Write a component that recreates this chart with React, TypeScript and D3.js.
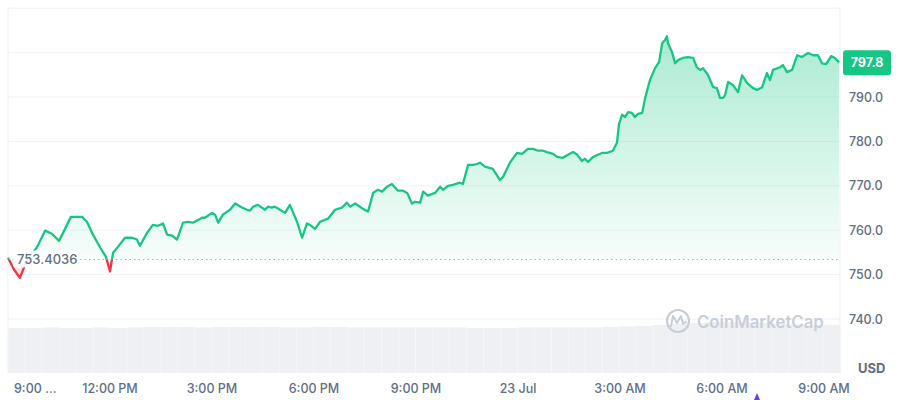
import React from "react";
import * as d3 from "d3";

// hours since 22 Jul 09:00
const hours = [0.00,0.18,0.35,0.59,0.85,1.09,1.29,1.50,1.62,1.85,2.18,2.32,2.50,2.71,2.88,3.00,3.09,3.24,3.44,3.65,3.79,3.88,4.09,4.26,4.41,4.56,4.68,4.82,4.97,5.15,5.29,5.44,5.71,5.79,6.00,6.09,6.18,6.32,6.53,6.68,6.88,7.03,7.12,7.21,7.35,7.56,7.65,7.76,7.85,8.00,8.15,8.29,8.50,8.65,8.79,8.88,9.03,9.18,9.41,9.62,9.82,9.97,10.06,10.21,10.44,10.59,10.74,10.88,11.00,11.15,11.29,11.47,11.62,11.74,11.88,11.97,12.12,12.21,12.35,12.56,12.71,12.79,12.94,13.09,13.29,13.38,13.53,13.68,13.79,13.88,14.03,14.18,14.26,14.47,14.56,14.76,14.97,15.12,15.29,15.44,15.59,15.74,15.85,16.03,16.15,16.32,16.47,16.62,16.74,16.88,16.97,17.06,17.21,17.35,17.47,17.62,17.79,17.91,17.97,18.06,18.15,18.24,18.35,18.44,18.53,18.65,18.74,18.88,19.03,19.15,19.24,19.32,19.38,19.41,19.53,19.62,19.71,19.85,20.00,20.15,20.26,20.35,20.44,20.59,20.74,20.85,20.94,21.03,21.09,21.18,21.32,21.47,21.59,21.74,21.91,22.03,22.18,22.32,22.41,22.50,22.71,22.79,22.91,23.06,23.21,23.35,23.53,23.68,23.82,23.94,24.06,24.21,24.32,24.44];
const prices = [753.8,751.1,749.3,753.8,756.1,759.9,759.2,757.6,759.4,763.0,763.0,761.9,759.0,756.1,754.0,750.7,754.9,756.3,758.3,758.3,757.9,756.5,759.4,761.2,761.0,761.5,759.0,758.8,757.9,761.7,761.9,761.7,762.8,762.8,763.9,763.5,761.7,763.5,764.6,766.0,765.1,764.6,764.4,765.3,765.7,764.6,765.3,765.1,765.3,764.6,763.9,765.7,761.9,758.3,761.5,761.2,760.3,761.9,762.6,764.6,765.1,766.2,765.3,766.0,764.8,764.2,768.4,769.1,768.7,769.8,770.4,768.9,768.9,768.4,766.0,766.4,766.2,768.7,767.8,768.4,769.8,769.1,770.0,770.2,770.7,770.4,774.7,774.7,774.9,775.2,774.3,774.0,773.8,771.3,772.0,775.2,777.4,777.2,778.3,778.3,777.9,777.9,777.6,777.2,776.5,776.3,777.0,777.6,777.0,775.6,776.1,775.4,776.5,777.0,777.4,777.4,777.9,779.7,783.9,786.0,785.5,786.6,786.4,785.5,786.2,786.4,789.8,793.8,796.5,797.9,802.1,802.8,803.7,802.1,800.1,797.6,798.3,798.8,799.0,798.8,796.7,796.1,796.5,794.9,792.2,792.0,789.8,789.8,790.4,793.4,792.7,791.1,794.9,793.1,792.0,791.6,792.2,795.4,793.8,796.1,796.7,797.2,795.6,796.1,799.4,799.0,799.9,799.4,799.4,797.6,797.4,799.2,798.8,797.8];

// half-hour volume bins (relative)
const volumes = [45,45,45.5,45,45,45.5,45,45.5,46,46,46,45.5,46,46,46,46,45.5,45.5,46,46,45.5,45.5,45.5,45.5,45.5,45.5,45.5,45,45,45,45.5,45.5,45.5,45.5,45.5,46,46.5,47,48,49,50,51,51,50.5,50,49,48.5,48,48];

const openPrice = 753.4036;
const lastPrice = 797.8;
const gridValues = [740, 750, 760, 770, 780, 790, 800, 810];
const yLabels = ["740.0", "750.0", "760.0", "770.0", "780.0", "790.0"];
const yLabelValues = [740, 750, 760, 770, 780, 790];
const xTickHours = [0, 3, 6, 9, 12, 15, 18, 21, 24];
const xTickLabels = ["9:00 ...", "12:00 PM", "3:00 PM", "6:00 PM", "9:00 PM", "23 Jul", "3:00 AM", "6:00 AM", "9:00 AM"];

const GREEN = "#16c784";
const RED = "#ea3943";
const TXT = "#616e85";
const FONT = "Inter, 'Noto Sans', sans-serif";

export default function App() {
  const left = 8, right = 840, top = 7;
  const x = d3.scaleLinear().domain([0, 24.47]).range([left, right]);
  const y = d3.scaleLinear().domain([740, 790]).range([319, 97]);
  const yVol = d3.scaleLinear().domain([0, 50]).range([373, 323]);
  const data = hours.map((h, i) => ({ h, p: prices[i] }));
  const base = y(openPrice);

  const line = d3.line<{ h: number; p: number }>().x(d => x(d.h)).y(d => y(d.p)).curve(d3.curveLinear);
  const area = d3.area<{ h: number; p: number }>().x(d => x(d.h)).y0(base).y1(d => y(d.p));
  const linePath = line(data) || "";
  const areaPath = area(data) || "";

  const volStep = (x(24.47) - x(0)) / volumes.length;
  const lastY = y(lastPrice);

  return (
    <svg width={900} height={400} style={{ position: "absolute", left: 0, top: 0, background: "#fff" }}>
      <defs>
        <linearGradient id="gfill" gradientUnits="userSpaceOnUse" x1={0} x2={0} y1={y(804)} y2={base}>
          <stop offset="0" stopColor={GREEN} stopOpacity={0.36} />
          <stop offset="1" stopColor={GREEN} stopOpacity={0.03} />
        </linearGradient>
        <linearGradient id="rfill" gradientUnits="userSpaceOnUse" x1={0} x2={0} y1={base} y2={y(749)}>
          <stop offset="0" stopColor={RED} stopOpacity={0.05} />
          <stop offset="1" stopColor={RED} stopOpacity={0.25} />
        </linearGradient>
        <clipPath id="above"><rect x={0} y={0} width={900} height={base} /></clipPath>
        <clipPath id="below"><rect x={0} y={base} width={900} height={400 - base} /></clipPath>
      </defs>

      {/* volume bars */}
      {volumes.map((v, i) => (
        <rect key={"v" + i} x={x(0) + i * volStep} y={yVol(v)} width={volStep + 0.3} height={yVol(0) - yVol(v)} fill="#eef0f4" />
      ))}
      {volumes.map((v, i) => (
        <line key={"vg" + i} x1={x(0) + i * volStep} x2={x(0) + i * volStep} y1={yVol(v)} y2={yVol(0)} stroke="#f7f8fa" strokeWidth={0.6} />
      ))}

      {/* grid */}
      {gridValues.map(g => (
        <line key={"g" + g} x1={left} x2={right} y1={y(g)} y2={y(g)} stroke="#f0f2f5" strokeWidth={1} />
      ))}
      <line x1={left} x2={left} y1={top} y2={374} stroke="#f0f2f5" />
      <line x1={right} x2={right} y1={top} y2={374} stroke="#eceff2" />

      {/* watermark */}
      <g>
        <circle cx={678} cy={321} r={11} fill="none" stroke="#c8ced8" strokeWidth={2.2} />
        <path d="M671,326 L673,316 L677,323 L681,316 L683,324 L686,322" fill="none" stroke="#c8ced8" strokeWidth={2} strokeLinejoin="round" strokeLinecap="round" />
        <text x={697} y={328} fontFamily={FONT} fontSize={16.8} fontWeight={600} fill="#c8ced8">CoinMarketCap</text>
      </g>

      {/* fills */}
      <path d={areaPath} fill="url(#gfill)" clipPath="url(#above)" />
      <path d={areaPath} fill="url(#rfill)" clipPath="url(#below)" />

      {/* baseline */}
      <line x1={left} x2={right} y1={base} y2={base} stroke="#a6b0c3" strokeWidth={1} strokeDasharray="1.5,3" />

      {/* price line */}
      <path d={linePath} fill="none" stroke={GREEN} strokeWidth={2.3} clipPath="url(#above)" strokeLinejoin="round" />
      <path d={linePath} fill="none" stroke={RED} strokeWidth={2.3} clipPath="url(#below)" strokeLinejoin="round" />

      {/* open price label */}
      <rect x={13} y={base - 9} width={66} height={17} rx={3} fill="#fff" opacity={0.92} />
      <text x={17} y={base + 5} fontFamily={FONT} fontSize={13} fontWeight={500} fill={TXT}>{openPrice.toFixed(4)}</text>

      {/* y labels */}
      {yLabelValues.map((v, i) => (
        <text key={"yl" + v} x={849} y={y(v) + 4.5} fontFamily={FONT} fontSize={12.5} fontWeight={500} fill={TXT}>{yLabels[i]}</text>
      ))}
      <text x={858} y={373} fontFamily={FONT} fontSize={13} fontWeight={700} fill={TXT}>USD</text>

      {/* current price tag */}
      <rect x={843} y={lastY - 12} width={48} height={25} rx={3} fill={GREEN} />
      <text x={867} y={lastY + 4.5} textAnchor="middle" fontFamily={FONT} fontSize={12.5} fontWeight={700} fill="#fff">{lastPrice.toFixed(1)}</text>

      {/* x labels */}
      {xTickHours.map((h, i) => (
        <text key={"xl" + h} x={i === 0 ? x(h) + 6 : x(h)} y={393} textAnchor={i === 0 ? "start" : "middle"} fontFamily={FONT} fontSize={12.5} fontWeight={500} fill={TXT}>{xTickLabels[i]}</text>
      ))}
      <path d="M754,400 L757,393 L760,400 Z" fill="#6b3df2" />
    </svg>
  );
}
